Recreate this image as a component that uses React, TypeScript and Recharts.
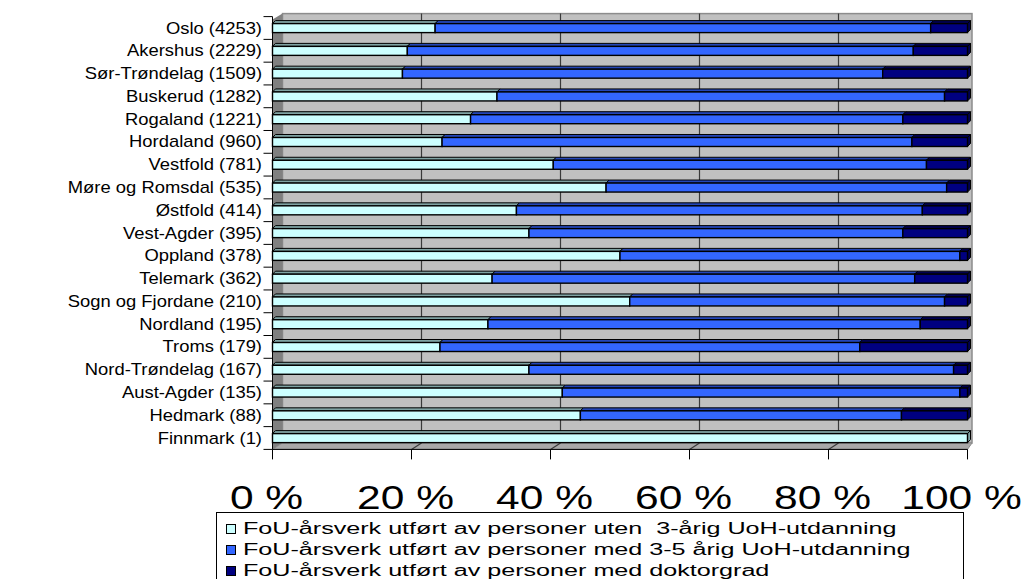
import { BarChart, Bar, XAxis, YAxis, Legend, Customized } from 'recharts'

const categories = [
  'Oslo (4253)', 'Akershus (2229)', 'Sør-Trøndelag (1509)', 'Buskerud (1282)',
  'Rogaland (1221)', 'Hordaland (960)', 'Vestfold (781)', 'Møre og Romsdal (535)',
  'Østfold (414)', 'Vest-Agder (395)', 'Oppland (378)', 'Telemark (362)',
  'Sogn og Fjordane (210)', 'Nordland (195)', 'Troms (179)', 'Nord-Trøndelag (167)',
  'Aust-Agder (135)', 'Hedmark (88)', 'Finnmark (1)',
]
// andel (%) av FoU-årsverk per fylke
const utenUoH = [23.4, 19.4, 18.7, 32.3, 28.5, 24.4, 40.4, 48.0, 35.1, 36.9, 50.0, 31.6, 51.4, 31.0, 24.1, 36.9, 41.7, 44.3, 100]
const medUoH = [71.3, 72.8, 69.1, 64.4, 62.2, 67.6, 53.7, 49.0, 58.4, 53.8, 48.9, 60.8, 45.3, 62.2, 60.4, 61.1, 57.2, 46.2, 0]
const doktor = [5.3, 7.8, 12.2, 3.3, 9.3, 8.0, 5.9, 3.0, 6.5, 9.3, 1.1, 7.6, 3.3, 6.8, 15.5, 2.0, 1.1, 9.5, 0]
const xTicks = [0, 20, 40, 60, 80, 100]

const seriesNames = [
  'FoU-årsverk utført av personer uten  3-årig UoH-utdanning',
  'FoU-årsverk utført av personer med 3-5 årig UoH-utdanning',
  'FoU-årsverk utført av personer med doktorgrad',
]
const seriesColors = ['#CCFFFF', '#3366FF', '#000080']
const topColors = ['#7FA3A3', '#2446B8', '#000050']

const data = categories.map((name, i) => ({
  name, uten: utenUoH[i], med: medUoH[i], dr: doktor[i],
}))

const W = 1016
const H = 571
const PL = 264.5
const PR = 959.5
const PT = 8.6
const PB = 441.4
const BAND = (PB - PT) / categories.length
const D = 10 // dybde på veggene
const FONT = '"Liberation Sans", Arial, sans-serif'

function Walls() {
  const xs = [20, 40, 60, 80].map((v) => PL + (v / 100) * (PR - PL))
  const backR = PR + 4.5
  const backB = PB - 6.4
  return (
    <g>
      <rect x={PL + D} y={PT - 3} width={backR - PL - D} height={backB - PT + 3} fill="#C0C0C0" stroke="#8C8C8C" strokeWidth={1.5} />
      <polygon points={`${PL},${PT + 3} ${PL + D},${PT - 3} ${PL + D},${backB} ${PL},${PB}`} fill="#808080" />
      {xs.map((x, i) => (
        <line key={i} x1={x + D} x2={x + D} y1={PT - 3} y2={backB} stroke="#3a3a3a" strokeWidth={1.2} />
      ))}
      <polygon points={`${PL},${PB} ${PL + D},${backB} ${backR},${backB} ${PR},${PB}`} fill="#A8A8A8" stroke="#8C8C8C" />
      {xs.map((x, i) => (
        <line key={'f' + i} x1={x + D} x2={x} y1={backB} y2={PB} stroke="#3a3a3a" strokeWidth={1.2} />
      ))}
    </g>
  )
}

function makeShape(idx: number) {
  return (props: any) => {
    const { x, y, width, height, payload } = props
    if (!width || width <= 0) return <g />
    const d = 3
    const isEnd = idx === 2 || (idx === 0 && payload.med + payload.dr === 0)
    return (
      <g>
        <polygon
          points={`${x},${y} ${x + d},${y - d} ${x + width + d},${y - d} ${x + width},${y}`}
          fill={topColors[idx]} stroke="#000" strokeWidth={1}
        />
        {isEnd && (
          <polygon
            points={`${x + width},${y} ${x + width + d},${y - d} ${x + width + d},${y + height - d} ${x + width},${y + height}`}
            fill={topColors[idx]} stroke="#000" strokeWidth={1}
          />
        )}
        <rect x={x} y={y} width={width} height={height} fill={seriesColors[idx]} stroke="#000" strokeWidth={1.4} />
      </g>
    )
  }
}

function YTick(props: any) {
  const { y, payload, index } = props
  const top = y - BAND / 2
  return (
    <g>
      <text
        transform={`translate(254,${y}) scale(1.15,1)`}
        textAnchor="end" dominantBaseline="central"
        fontSize={16} fontFamily={FONT} fill="#000"
      >
        {payload.value}
      </text>
      <line x1={PL - 9} x2={PL} y1={top} y2={top} stroke="#000" />
      {index === categories.length - 1 && (
        <line x1={PL - 9} x2={PL} y1={y + BAND / 2} y2={y + BAND / 2} stroke="#000" />
      )}
    </g>
  )
}

function XTick(props: any) {
  const { x, payload } = props
  return (
    <text
      transform={`translate(${x - 6},489) scale(1.25,1)`}
      textAnchor="middle" dominantBaseline="central"
      fontSize={34} fontFamily={FONT} fill="#000"
    >
      {`${payload.value} %`}
    </text>
  )
}

function LegendBox() {
  return (
    <div style={{ position: 'relative', width: 748, height: 80, border: '1px solid #000', background: '#fff', boxSizing: 'border-box', fontFamily: FONT, textAlign: 'left' }}>
      {seriesNames.map((n, i) => (
        <div key={n} style={{ position: 'absolute', left: 9, top: 8 + i * 21, height: 16, display: 'flex', alignItems: 'center' }}>
          <span style={{ width: 8, height: 8, background: seriesColors[i], border: '1px solid #000', display: 'inline-block' }} />
          <span style={{ marginLeft: 7, fontSize: 16, lineHeight: '16px', color: '#000', whiteSpace: 'pre', display: 'inline-block', transform: 'scaleX(1.57)', transformOrigin: 'left center' }}>
            {n}
          </span>
        </div>
      ))}
    </div>
  )
}

export default function App() {
  return (
    <BarChart
      width={W} height={H} data={data} layout="vertical"
      margin={{ top: PT, right: W - PR, bottom: H - PB - 60, left: 0 }}
      barSize={9}
    >
      <Customized component={<Walls />} />
      <XAxis
        type="number" domain={[0, 100]} ticks={xTicks} height={60}
        tick={<XTick />} tickSize={10} axisLine={{ stroke: '#000' }} tickLine={{ stroke: '#000' }}
        interval={0}
      />
      <YAxis
        type="category" dataKey="name" width={PL} interval={0}
        tick={<YTick />} tickLine={false} axisLine={{ stroke: '#000' }}
      />
      <Legend
        layout="horizontal" verticalAlign="middle" align="center"
        content={<LegendBox />}
        wrapperStyle={{ left: 208, top: 504, width: 748, height: 80 }}
      />
      <Bar dataKey="uten" stackId="a" name={seriesNames[0]} fill={seriesColors[0]} shape={makeShape(0)} isAnimationActive={false} />
      <Bar dataKey="med" stackId="a" name={seriesNames[1]} fill={seriesColors[1]} shape={makeShape(1)} isAnimationActive={false} />
      <Bar dataKey="dr" stackId="a" name={seriesNames[2]} fill={seriesColors[2]} shape={makeShape(2)} isAnimationActive={false} />
    </BarChart>
  )
}
